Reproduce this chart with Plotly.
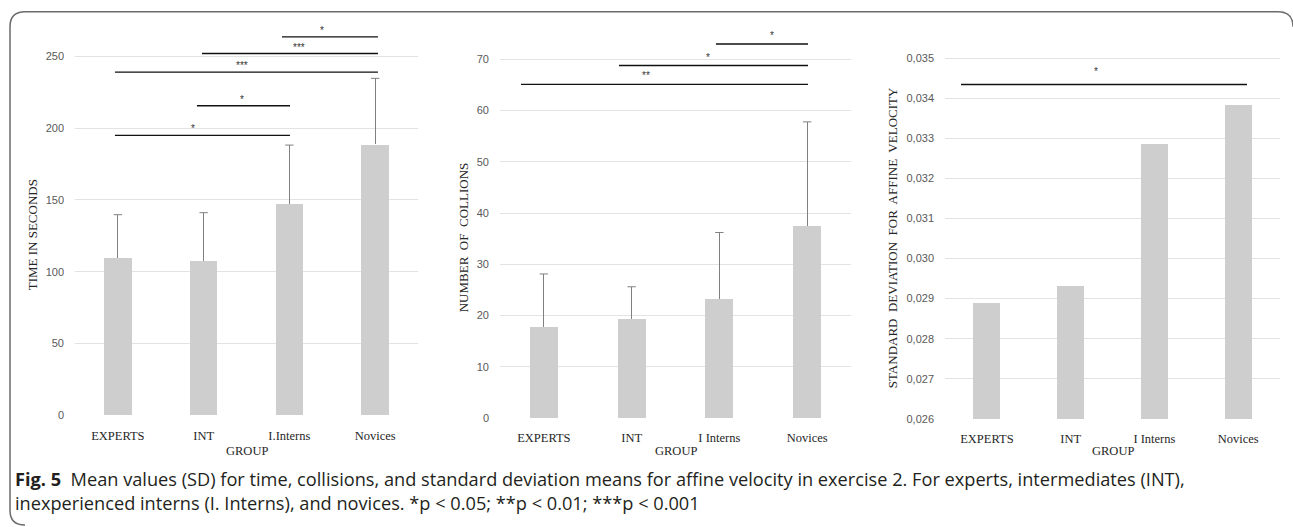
import plotly.graph_objects as go

# ---------------- data ----------------
groups = ["EXPERTS", "INT", "I.Interns", "Novices"]
tick_labels_time = ["EXPERTS", "INT", "I.Interns", "Novices"]
tick_labels_coll = ["EXPERTS", "INT", "I Interns", "Novices"]
tick_labels_vel = ["EXPERTS", "INT", "I Interns", "Novices"]

time_mean = [109.5, 107.4, 147.4, 188.7]
time_sd = [30.2, 33.7, 40.8, 46.0]
coll_mean = [17.7, 19.4, 23.3, 37.5]
coll_sd = [10.4, 6.2, 12.9, 20.3]
vel_mean = [0.0289, 0.02932, 0.03285, 0.03383]

# significance brackets: (from group, to group, height, label)
time_sig = [("I.Interns", "Novices", 263.6, "*"),
            ("INT", "Novices", 252.0, "***"),
            ("EXPERTS", "Novices", 239.0, "***"),
            ("INT", "I.Interns", 215.6, "*"),
            ("EXPERTS", "I.Interns", 195.0, "*")]
coll_sig = [("I.Interns", "Novices", 73.0, "*"),
            ("INT", "Novices", 68.8, "*"),
            ("EXPERTS", "Novices", 65.1, "**")]
vel_sig = [("EXPERTS", "Novices", 0.03434, "*")]

# ---------------- style / layout ----------------
W, H = 1293, 527
BAR = "#cdcecd"
ERR = "#808080"
GRID = "#e3e3e3"
SERIF = "Liberation Serif, Times New Roman, serif"
SANS = "Liberation Sans, Arial, sans-serif"

def px_x(p):
    return p / W

def px_y(p):
    return 1 - p / H

# bracket geometry tweaks (start offset, end offset, label shift) in category units
time_geo = [(-0.086, 0.033, -0.09), (-0.019, 0.033, 0.10), (-0.034, 0.033, -0.05),
            (-0.078, 0.007, -0.02), (-0.034, 0.007, -0.11)]
coll_geo = [(-0.039, 0.01, 0.11), (-0.144, 0.01, -0.066), (-0.261, 0.01, -0.21)]
vel_geo = [(-0.309, 0.106, -0.095)]

fig = go.Figure()

panels = [
    dict(n="", xdom=(75, 418), ybot=420.0, ytop=20, rng=(0, 275.5), mean=time_mean, sd=time_sd,
         ticks=tick_labels_time, sig=time_sig, geo=time_geo, dtick=50, fmt="d",
         title="TIME IN SECONDS", tx=32, ty=238, star_shift=-1),
    dict(n="2", xdom=(500, 851), ybot=422.7, ytop=20, rng=(0, 77.73), mean=coll_mean, sd=coll_sd,
         ticks=tick_labels_coll, sig=coll_sig, geo=coll_geo, dtick=10, fmt="d",
         title="NUMBER  OF  COLLIONS", tx=463, ty=240, star_shift=1),
    dict(n="3", xdom=(945, 1280), ybot=423.7, ytop=20, rng=(0.026, 0.035954), mean=vel_mean, sd=None,
         ticks=tick_labels_vel, sig=vel_sig, geo=vel_geo, dtick=0.001, fmt=".3f",
         title="STANDARD  DEVIATION  FOR  AFFINE  VELOCITY", tx=892, ty=241, star_shift=5),
]

shapes = []
annotations = []
layout_axes = {}

for p in panels:
    xa = "x" + p["n"]
    ya = "y" + p["n"]
    err = None
    if p["sd"] is not None:
        err = dict(type="data", symmetric=False, array=p["sd"], arrayminus=[0] * len(p["sd"]),
                   color=ERR, thickness=1, width=0)
    fig.add_trace(go.Bar(x=groups, y=p["mean"], marker=dict(color=BAR, line=dict(width=0)),
                         width=0.32, error_y=err, xaxis=xa, yaxis=ya, showlegend=False,
                         hoverinfo="x+y"))
    if p["sd"] is not None:
        # caps on the upper end of the one-sided error bars
        tops = [m + s for m, s in zip(p["mean"], p["sd"])]
        fig.add_trace(go.Scatter(x=groups, y=tops, mode="markers", xaxis=xa, yaxis=ya,
                                 marker=dict(symbol="line-ew", size=6,
                                             line=dict(color=ERR, width=1)),
                                 showlegend=False, hoverinfo="skip"))
    layout_axes["xaxis" + p["n"]] = dict(
        domain=[px_x(p["xdom"][0]), px_x(p["xdom"][1])], anchor=ya, range=[-0.5, 3.5],
        type="category", tickmode="array", tickvals=groups, ticktext=p["ticks"],
        showgrid=False, showline=False, zeroline=False, ticks="",
        tickfont=dict(family=SERIF, size=12.5, color="#262626"), ticklabelstandoff=11)
    layout_axes["yaxis" + p["n"]] = dict(
        domain=[px_y(p["ybot"]), px_y(p["ytop"])], anchor=xa, range=list(p["rng"]),
        tick0=p["rng"][0], dtick=p["dtick"], tickformat=p["fmt"],
        showgrid=True, gridcolor=GRID, gridwidth=1, zeroline=False, showline=False, ticks="",
        tickfont=dict(family=SANS, size=11, color="#595959"), ticklabelstandoff=10)
    # significance brackets
    for (g0, g1, h, lab), (o0, o1, sh) in zip(p["sig"], p["geo"]):
        x0 = groups.index(g0) + o0
        x1 = groups.index(g1) + o1
        shapes.append(dict(type="line", xref=xa, yref=ya, x0=x0, x1=x1, y0=h, y1=h,
                           line=dict(color="#111111", width=1.3)))
        annotations.append(dict(xref=xa, yref=ya, x=(x0 + x1) / 2 + sh, y=h, text=lab,
                                showarrow=False, yanchor="bottom", yshift=p["star_shift"],
                                font=dict(family=SANS, size=10, color="#333333")))
    # axis titles
    annotations.append(dict(xref="paper", yref="paper", x=px_x(p["tx"]), y=px_y(p["ty"]),
                            text=p["title"], textangle=-90, showarrow=False,
                            xanchor="center", yanchor="middle",
                            font=dict(family=SERIF, size=13, color="#262626")))
    annotations.append(dict(xref="paper", yref="paper",
                            x=px_x((p["xdom"][0] + p["xdom"][1]) / 2), y=px_y(456),
                            text="GROUP", showarrow=False, xanchor="center", yanchor="middle",
                            font=dict(family=SERIF, size=12.5, color="#262626")))

# caption
CAP = "Open Sans, Noto Sans, sans-serif"
annotations.append(dict(xref="paper", yref="paper", x=px_x(13), y=px_y(485), xanchor="left",
                        yanchor="middle", showarrow=False,
                        text="<b>Fig. 5</b>  Mean values (SD) for time, collisions, and standard deviation "
                             "means for affine velocity in exercise 2. For experts, intermediates (INT),",
                        font=dict(family=CAP, size=18.2, color="#231f20")))
annotations.append(dict(xref="paper", yref="paper", x=px_x(13), y=px_y(509), xanchor="left",
                        yanchor="middle", showarrow=False,
                        text="inexperienced interns (I. Interns), and novices. *p &lt; 0.05; **p &lt; 0.01; ***p &lt; 0.001",
                        font=dict(family=CAP, size=18.2, color="#231f20")))

# rounded frame
r = 15
path = (f"M {px_x(10 + r)},{px_y(531)} Q {px_x(10)},{px_y(531)} {px_x(10)},{px_y(531 - r)} "
        f"L {px_x(10)},{px_y(12 + r)} "
        f"Q {px_x(10)},{px_y(12)} {px_x(10 + r)},{px_y(12)} "
        f"L {px_x(1293 - r)},{px_y(12)} Q {px_x(1293)},{px_y(12)} {px_x(1293)},{px_y(12 + r)}")
shapes.append(dict(type="path", xref="paper", yref="paper", path=path,
                   line=dict(color="#6b6b6b", width=1.5)))

fig.update_layout(width=W, height=H, margin=dict(l=0, r=0, t=0, b=0),
                  paper_bgcolor="white", plot_bgcolor="white", separators=",.",
                  shapes=shapes, annotations=annotations, bargap=0, **layout_axes)

fig.write_html("out.html", config={"displayModeBar": False},
               post_script="document.body.style.margin='0px';document.body.style.overflow='hidden';")
